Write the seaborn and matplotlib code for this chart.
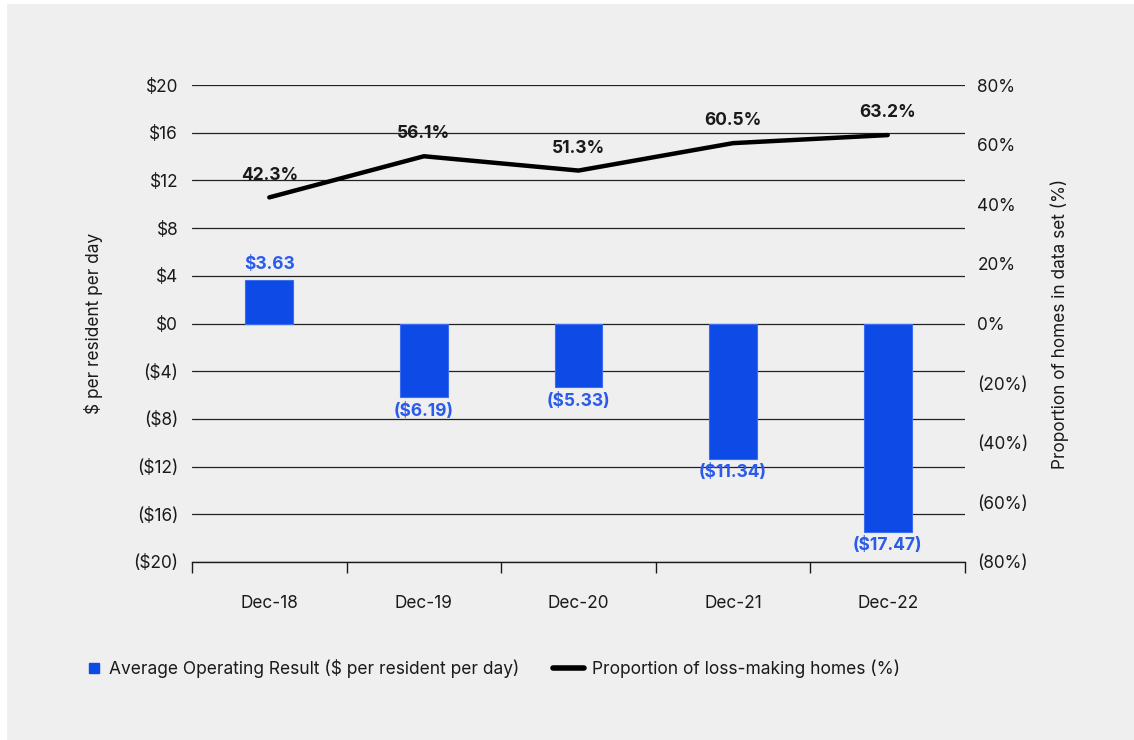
import matplotlib
matplotlib.use("Agg")
import matplotlib.pyplot as plt
from matplotlib.lines import Line2D
from matplotlib.patches import Rectangle
from matplotlib.ticker import FuncFormatter, FixedLocator
import seaborn as sns
import pandas as pd
import numpy as np

# Data
periods = ["Dec-18", "Dec-19", "Dec-20", "Dec-21", "Dec-22"]
operating_result = [3.63, -6.19, -5.33, -11.34, -17.47]
loss_making_pct = [42.3, 56.1, 51.3, 60.5, 63.2]
left_ticks = [-20, -16, -12, -8, -4, 0, 4, 8, 12, 16, 20]
right_ticks = [-80, -60, -40, -20, 0, 20, 40, 60, 80]

bar_label = "Average Operating Result ($ per resident per day)"
line_label = "Proportion of loss-making homes (%)"

BG = "#EFEFEF"
BAR = "#0D4AE6"
BAR_TEXT = "#2A5BEA"
INK = "#1A1A1A"
FS = 12.4

sns.set_theme(style="white")
plt.rcParams["font.family"] = ["Inter", "DejaVu Sans"]
plt.rcParams["font.size"] = FS

fig = plt.figure(figsize=(11.34, 7.40), dpi=100, facecolor="white")
fig.patches.append(Rectangle((7 / 1134, 0), 1 - 7 / 1134, 1 - 4 / 740,
                             transform=fig.transFigure, facecolor=BG,
                             edgecolor="none", zorder=-10))

ax = fig.add_axes([192 / 1134, 1 - 562 / 740, (965 - 192) / 1134, (562 - 85) / 740])
ax.set_facecolor("none")

df = pd.DataFrame({"period": periods, "result": operating_result,
                   "pct": loss_making_pct, "pos": np.arange(len(periods))})

sns.barplot(data=df, x="period", y="result", color=BAR, width=0.31,
            saturation=1, edgecolor="#3C6CF0", linewidth=0.8, ax=ax, zorder=3)

ax.set_xlim(-0.5, len(periods) - 0.5)
ax.set_ylim(-20, 20)
ax.yaxis.set_major_locator(FixedLocator(left_ticks))
ax.yaxis.set_major_formatter(FuncFormatter(
    lambda v, _: f"${v:.0f}" if v >= 0 else f"(${-v:.0f})"))
ax.grid(axis="y", color="#222222", linewidth=0.9, zorder=0)
ax.set_axisbelow(True)
for s in ["top", "left", "right"]:
    ax.spines[s].set_visible(False)
ax.spines["bottom"].set_color(INK)
ax.spines["bottom"].set_linewidth(1.0)
ax.spines["bottom"].set_zorder(1)

# Tick marks at category boundaries, labels at centres
ax.set_xticks(np.arange(-0.5, len(periods)), minor=True)
ax.tick_params(axis="x", which="minor", bottom=True, length=8, width=1.0,
               color=INK, direction="out")
ax.tick_params(axis="x", which="major", bottom=True, length=0, pad=24,
               labelsize=FS, labelcolor=INK)
ax.tick_params(axis="y", length=0, pad=10, labelsize=FS, labelcolor=INK)
ax.set_xlabel("")
ax.set_ylabel("$ per resident per day", fontsize=FS, color=INK, labelpad=22)

for i, v in enumerate(operating_result):
    txt = f"${v:.2f}" if v >= 0 else f"(${-v:.2f})"
    ax.annotate(txt, (i, v), xytext=(0, 5 if v >= 0 else -4),
                textcoords="offset points", ha="center",
                va="bottom" if v >= 0 else "top",
                fontsize=12.5, fontweight="bold", color=BAR_TEXT, zorder=5)

ax2 = ax.twinx()
ax2.set_facecolor("none")
sns.lineplot(data=df, x="pos", y="pct", color="black", linewidth=3.2,
             ax=ax2, zorder=4, solid_capstyle="round")
ax2.set_ylim(-80, 80)
ax2.set_xlim(-0.5, len(periods) - 0.5)
ax2.yaxis.set_major_locator(FixedLocator(right_ticks))
ax2.yaxis.set_major_formatter(FuncFormatter(
    lambda v, _: f"{v:.0f}%" if v >= 0 else f"({-v:.0f}%)"))
ax2.tick_params(axis="y", length=0, pad=9, labelsize=FS, labelcolor=INK)
for s in ["top", "left", "right", "bottom"]:
    ax2.spines[s].set_visible(False)
ax2.grid(False)
ax2.set_xlabel("")
ax2.set_ylabel("Proportion of homes in data set (%)", fontsize=FS, color=INK, labelpad=16)

for i, v in enumerate(loss_making_pct):
    ax2.annotate(f"{v:.1f}%", (i, v), xytext=(0, 10), textcoords="offset points",
                 ha="center", va="bottom", fontsize=12.5, fontweight="bold",
                 color=INK, zorder=6)

# Legend: two single-entry legends so each handle gets its own width
square = Line2D([], [], linestyle="none", marker="s", markersize=7.5,
                markerfacecolor=BAR, markeredgecolor=BAR)
thick = Line2D([], [], color="black", linewidth=4, solid_capstyle="round")
legend_y = 1 - 669 / 740
common = dict(loc="center left", frameon=False, fontsize=12.5, borderpad=0,
              borderaxespad=0, handletextpad=0.43, labelcolor=INK)
fig.legend([square], [bar_label], bbox_to_anchor=(86 / 1134, legend_y),
           handlelength=0.87, **common)
fig.legend([thick], [line_label], bbox_to_anchor=(553 / 1134, legend_y),
           handlelength=1.8, **common)

fig.savefig("out.png", dpi=100, facecolor=fig.get_facecolor())
